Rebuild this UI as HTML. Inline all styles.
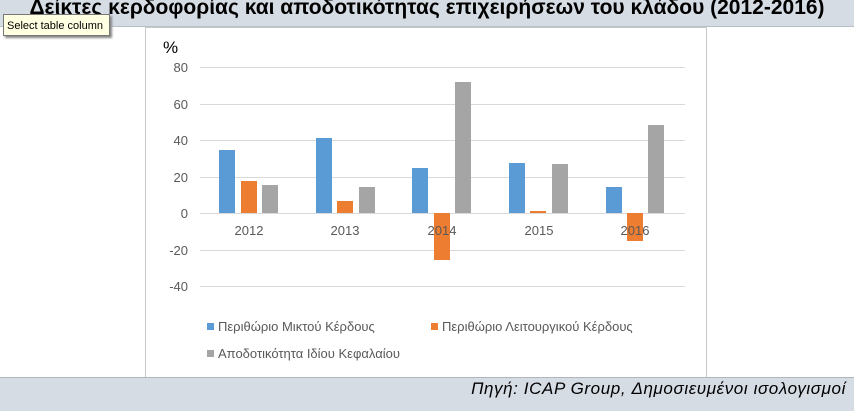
<!DOCTYPE html>
<html><head><meta charset="utf-8"><style>
body{margin:0;width:854px;height:410px;overflow:hidden;background:#fff;font-family:"Liberation Sans",sans-serif;position:relative}
.top{position:absolute;left:0;top:0;width:854px;height:26px;background:#d6dce4;border-bottom:1px solid #b8bec6}
.title{position:absolute;left:0;width:854px;top:-4px;text-align:center;font-weight:bold;font-size:21px;color:#000;white-space:nowrap}
.tip{position:absolute;left:3px;top:14px;width:107px;height:22px;background:#ffffe1;border:1px solid #777;box-shadow:2px 2px 2px #888;font-size:11px;line-height:22px;padding-left:3px;box-sizing:border-box}
.bot{position:absolute;left:0;top:377px;width:854px;height:33px;background:#d6dce4;border-top:1px solid #b0b6be}
.src{position:absolute;right:8px;top:1px;font-style:italic;font-size:17px;letter-spacing:0.6px;color:#000}
</style></head><body>
<div class="top"><div class="title">Δείκτες κερδοφορίας και αποδοτικότητας επιχειρήσεων του κλάδου (2012-2016)</div></div>
<svg style="position:absolute;left:0;top:0" width="854" height="410">
<rect x="145.5" y="27.5" width="561" height="350" fill="#fff" stroke="#c8c8c8"/>
<g font-family="Liberation Sans,sans-serif" font-size="13" fill="#595959">
<text x="163" y="53" font-size="17" fill="#000">%</text>
<g stroke="#d9d9d9">
<line x1="200" x2="685" y1="67.5" y2="67.5"/><line x1="200" x2="685" y1="104.5" y2="104.5"/>
<line x1="200" x2="685" y1="140.5" y2="140.5"/><line x1="200" x2="685" y1="177.5" y2="177.5"/>
<line x1="200" x2="685" y1="250.5" y2="250.5"/><line x1="200" x2="685" y1="286.5" y2="286.5"/>
<line x1="200" x2="685" y1="213.5" y2="213.5"/>
</g>
<g text-anchor="end">
<text x="188" y="72">80</text><text x="188" y="109">60</text><text x="188" y="145">40</text>
<text x="188" y="182">20</text><text x="188" y="218">0</text><text x="188" y="255">-20</text><text x="188" y="291">-40</text>
</g>
<g fill="#5b9bd5">
<rect x="219" y="150" width="16" height="63"/><rect x="316" y="138" width="16" height="75"/>
<rect x="412" y="168" width="16" height="45"/><rect x="509" y="163" width="16" height="50"/>
<rect x="606" y="187" width="16" height="26"/>
</g>
<g fill="#ed7d31">
<rect x="241" y="181" width="16" height="32"/><rect x="337" y="201" width="16" height="12"/>
<rect x="434" y="213" width="16" height="47"/><rect x="530" y="211" width="16" height="2"/>
<rect x="627" y="213" width="16" height="28"/>
</g>
<g fill="#a5a5a5">
<rect x="262" y="185" width="16" height="28"/><rect x="359" y="187" width="16" height="26"/>
<rect x="455" y="82" width="16" height="131"/><rect x="552" y="164" width="16" height="49"/>
<rect x="648" y="125" width="16" height="88"/>
</g>
<g text-anchor="middle">
<text x="249" y="235">2012</text><text x="345" y="235">2013</text><text x="442" y="235">2014</text>
<text x="539" y="235">2015</text><text x="635" y="235">2016</text>
</g>
<rect x="207" y="323" width="7" height="7" fill="#5b9bd5"/><text x="218" y="331">Περιθώριο Μικτού Κέρδους</text>
<rect x="431" y="323" width="7" height="7" fill="#ed7d31"/><text x="442" y="331">Περιθώριο Λειτουργικού Κέρδους</text>
<rect x="207" y="350" width="7" height="7" fill="#a5a5a5"/><text x="218" y="358">Αποδοτικότητα Ιδίου Κεφαλαίου</text>
</g>
</svg>
<div class="tip">Select table column</div>
<div class="bot"><div class="src">Πηγή: ICAP Group, Δημοσιευμένοι ισολογισμοί</div></div>
</body></html>
